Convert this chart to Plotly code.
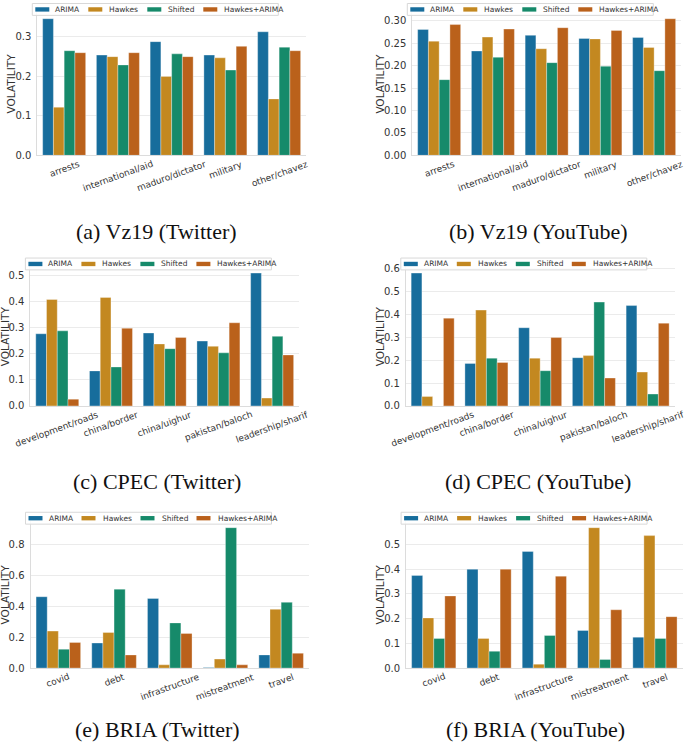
import plotly.graph_objects as go

W, H = 685, 745

series_names = ["ARIMA", "Hawkes", "Shifted", "Hawkes+ARIMA"]
series_colors = ["#176d9c", "#c38820", "#168a6a", "#ba611b"]

vz19_topics = ["arrests", "international/aid", "maduro/dictator", "military", "other/chavez"]
vz19_tw_arima = [0.346, 0.254, 0.288, 0.254, 0.313]
vz19_tw_hawkes = [0.122, 0.250, 0.200, 0.247, 0.143]
vz19_tw_shifted = [0.265, 0.229, 0.257, 0.216, 0.274]
vz19_tw_hybrid = [0.260, 0.260, 0.250, 0.276, 0.265]

vz19_yt_arima = [0.281, 0.233, 0.268, 0.261, 0.263]
vz19_yt_hawkes = [0.255, 0.264, 0.238, 0.260, 0.241]
vz19_yt_shifted = [0.169, 0.219, 0.207, 0.199, 0.189]
vz19_yt_hybrid = [0.292, 0.282, 0.285, 0.279, 0.305]

cpec_topics = ["development/roads", "china/border", "china/uighur", "pakistan/baloch", "leadership/sharif"]
cpec_tw_arima = [0.276, 0.134, 0.279, 0.248, 0.508]
cpec_tw_hawkes = [0.407, 0.415, 0.237, 0.228, 0.030]
cpec_tw_shifted = [0.287, 0.149, 0.219, 0.203, 0.266]
cpec_tw_hybrid = [0.026, 0.297, 0.262, 0.318, 0.195]

cpec_yt_arima = [0.581, 0.186, 0.342, 0.211, 0.439]
cpec_yt_hawkes = [0.041, 0.419, 0.209, 0.220, 0.148]
cpec_yt_shifted = [0.0, 0.209, 0.154, 0.454, 0.052]
cpec_yt_hybrid = [0.384, 0.190, 0.299, 0.122, 0.362]

bria_topics = ["covid", "debt", "infrastructure", "mistreatment", "travel"]
bria_tw_arima = [0.461, 0.162, 0.450, 0.004, 0.085]
bria_tw_hawkes = [0.239, 0.230, 0.021, 0.058, 0.380]
bria_tw_shifted = [0.122, 0.510, 0.292, 0.907, 0.425]
bria_tw_hybrid = [0.166, 0.085, 0.224, 0.021, 0.096]

bria_yt_arima = [0.375, 0.400, 0.472, 0.152, 0.125]
bria_yt_hawkes = [0.203, 0.120, 0.016, 0.568, 0.536]
bria_yt_shifted = [0.120, 0.068, 0.132, 0.035, 0.120]
bria_yt_hybrid = [0.292, 0.400, 0.372, 0.236, 0.208]

captions = ["(a) Vz19 (Twitter)", "(b) Vz19 (YouTube)", "(c) CPEC (Twitter)",
            "(d) CPEC (YouTube)", "(e) BRIA (Twitter)", "(f) BRIA (YouTube)"]

panels = [
    dict(topics=vz19_topics, vals=[vz19_tw_arima, vz19_tw_hawkes, vz19_tw_shifted, vz19_tw_hybrid],
         dtick=0.1, fmt=".1f", xl=37.3, xr=306.0, bottom=154.0, height=145, ytx=10.8, cap=(156, 231)),
    dict(topics=vz19_topics, vals=[vz19_yt_arima, vz19_yt_hawkes, vz19_yt_shifted, vz19_yt_hybrid],
         dtick=0.05, fmt=".2f", xl=412.3, xr=681.0, bottom=154.0, height=145, ytx=380, cap=(538, 231)),
    dict(topics=cpec_topics, vals=[cpec_tw_arima, cpec_tw_hawkes, cpec_tw_shifted, cpec_tw_hybrid],
         dtick=0.1, fmt=".1f", xl=30.4, xr=299.0, bottom=407.3, height=141, ytx=5.0, cap=(157, 484)),
    dict(topics=cpec_topics, vals=[cpec_yt_arima, cpec_yt_hawkes, cpec_yt_shifted, cpec_yt_hybrid],
         dtick=0.1, fmt=".1f", xl=405.8, xr=674.5, bottom=407.3, height=141, ytx=380, cap=(538, 484)),
    dict(topics=bria_topics, vals=[bria_tw_arima, bria_tw_hawkes, bria_tw_shifted, bria_tw_hybrid],
         dtick=0.2, fmt=".1f", xl=30.5, xr=309.0, bottom=672.3, height=149, ytx=5.0, cap=(157, 734)),
    dict(topics=bria_topics, vals=[bria_yt_arima, bria_yt_hawkes, bria_yt_shifted, bria_yt_hybrid],
         dtick=0.1, fmt=".1f", xl=406.1, xr=682.6, bottom=672.3, height=149, ytx=380, cap=(535, 734)),
]


def px(x):
    return x / W


def py(y):
    return 1 - y / H


fig = go.Figure()
shapes = []
annotations = []

tick_font = dict(family="DejaVu Sans", size=10, color="#333333")
label_font = dict(family="DejaVu Sans", size=9, color="#333333")
legend_font = dict(family="DejaVu Sans", size=7.5, color="#333333")

legend_swatch_off = [3, 56, 115, 171]
legend_text_off = [21, 75, 134, 190]

for i, p in enumerate(panels, start=1):
    xa = "x" if i == 1 else f"x{i}"
    ya = "y" if i == 1 else f"y{i}"
    xkey = "xaxis" if i == 1 else f"xaxis{i}"
    ykey = "yaxis" if i == 1 else f"yaxis{i}"
    top = p["bottom"] - p["height"]
    ymax = 1.05 * max(max(v) for v in p["vals"])

    for name, color, vals in zip(series_names, series_colors, p["vals"]):
        fig.add_trace(go.Bar(
            x=p["topics"], y=vals, name=name, xaxis=xa, yaxis=ya,
            marker=dict(color=color, line=dict(width=0.6, color="rgba(255,255,255,0.55)")),
            showlegend=False, hoverinfo="skip",
        ))

    fig.layout[xkey] = dict(
        domain=[px(p["xl"]), px(p["xr"])], anchor=ya, type="category",
        range=[-0.5, 4.5], showticklabels=False, showgrid=False, zeroline=False,
        showline=True, linecolor="#dcdcdc", linewidth=1, ticks="", fixedrange=True,
    )
    fig.layout[ykey] = dict(
        domain=[py(p["bottom"]), py(top)], anchor=xa, range=[0, ymax],
        dtick=p["dtick"], tick0=0, tickformat=p["fmt"], tickfont=tick_font,
        showgrid=True, gridcolor="#ebebeb", gridwidth=1, zeroline=False,
        showline=True, linecolor="#dcdcdc", linewidth=1, ticks="", ticklabelstandoff=3,
        fixedrange=True,
    )

    # rotated category labels, centred under each category
    for t in p["topics"]:
        annotations.append(dict(
            x=t, xref=xa, y=py(p["bottom"] + 1), yref="paper", text=t,
            textangle=-20, xanchor="center", yanchor="top", showarrow=False,
            font=label_font,
        ))

    # y-axis title
    annotations.append(dict(
        x=px(p["ytx"]), y=py((p["bottom"] + top) / 2), xref="paper", yref="paper",
        text="VOLATILITY", textangle=-90, showarrow=False, xanchor="center", yanchor="middle",
        font=dict(family="DejaVu Sans", size=10.5, color="#333333"),
    ))

    # legend box
    bx = p["xl"] - 5
    by = top - 8.5
    shapes.append(dict(type="rect", xref="paper", yref="paper",
                       x0=px(bx), x1=px(bx + 246), y0=py(by + 12), y1=py(by),
                       fillcolor="rgba(255,255,255,0.85)", line=dict(color="#d8d8d8", width=1),
                       layer="above"))
    cy = by + 6
    for k, (name, color) in enumerate(zip(series_names, series_colors)):
        sx = bx + legend_swatch_off[k]
        shapes.append(dict(type="rect", xref="paper", yref="paper",
                           x0=px(sx), x1=px(sx + 14), y0=py(cy + 2.2), y1=py(cy - 2.2),
                           fillcolor=color, line=dict(width=0), layer="above"))
        annotations.append(dict(
            x=px(bx + legend_text_off[k]), y=py(cy), xref="paper", yref="paper",
            text=name, showarrow=False, xanchor="left", yanchor="middle",
            font=legend_font,
        ))

    # caption
    annotations.append(dict(
        x=px(p["cap"][0]), y=py(p["cap"][1]), xref="paper", yref="paper",
        text=captions[i - 1], showarrow=False, xanchor="center", yanchor="middle",
        font=dict(family="Liberation Serif", size=22, color="#111111"),
    ))

fig.update_layout(
    width=W, height=H, margin=dict(l=0, r=0, t=0, b=0),
    paper_bgcolor="white", plot_bgcolor="white",
    barmode="group", bargap=0.2, bargroupgap=0,
    shapes=shapes, annotations=annotations, showlegend=False,
    hovermode=False,
)

fig.write_html("out.html", config={"displayModeBar": False},
               post_script="document.body.style.margin='0';")
